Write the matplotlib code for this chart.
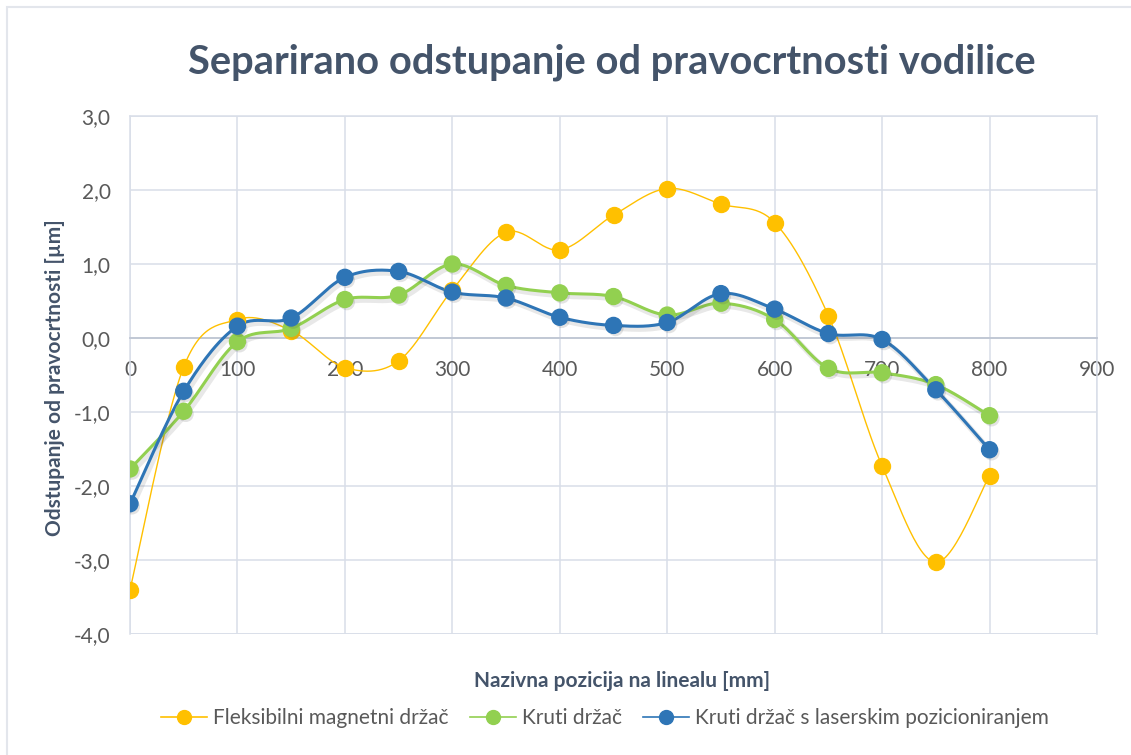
import numpy as np
import matplotlib
matplotlib.use("Agg")
import matplotlib.pyplot as plt
import matplotlib.patheffects as pe
from matplotlib.patches import Rectangle
from matplotlib.ticker import FuncFormatter, MultipleLocator

plt.rcParams['font.family'] = ['Lato', 'DejaVu Sans']

# measured positions along the rail [mm]
pozicija = [0, 50, 100, 150, 200, 250, 300, 350, 400, 450, 500, 550, 600, 650, 700, 750, 800]

# deviation from straightness [um]
fleksibilni = [-3.40, -0.39, 0.25, 0.10, -0.40, -0.31, 0.65, 1.43, 1.19, 1.66, 2.02, 1.81, 1.56, 0.30, -1.73, -3.03, -1.86]
kruti = [-1.77, -0.99, -0.05, 0.13, 0.52, 0.58, 1.00, 0.71, 0.61, 0.56, 0.31, 0.47, 0.25, -0.41, -0.47, -0.63, -1.05]
kruti_laser = [-2.24, -0.72, 0.16, 0.27, 0.82, 0.90, 0.62, 0.54, 0.28, 0.17, 0.21, 0.60, 0.39, 0.06, -0.02, -0.70, -1.51]

nazivi = ['Fleksibilni magnetni držač', 'Kruti držač', 'Kruti držač s laserskim pozicioniranjem']
boje = ['#FFC000', '#92D050', '#2E75B6']
debljine = [1.0, 2.2, 2.2]

TEXT = '#595959'
TITLE = '#44546A'
GRID = '#D9DEE8'


def smooth(x, y, n=30):
    """cardinal (catmull-rom style) bezier smoothing like office charts"""
    x = np.asarray(x, float)
    y = np.asarray(y, float)
    px = np.concatenate([[x[0]], x, [x[-1]]])
    py = np.concatenate([[y[0]], y, [y[-1]]])
    t = np.linspace(0, 1, n)[:, None]
    xs, ys = [], []
    for i in range(1, len(px) - 2):
        p0 = np.array([px[i], py[i]])
        p3 = np.array([px[i + 1], py[i + 1]])
        p1 = p0 + (np.array([px[i + 1], py[i + 1]]) - np.array([px[i - 1], py[i - 1]])) / 6
        p2 = p3 - (np.array([px[i + 2], py[i + 2]]) - np.array([px[i], py[i]])) / 6
        b = ((1 - t) ** 3) * p0 + 3 * ((1 - t) ** 2) * t * p1 + 3 * (1 - t) * t ** 2 * p2 + t ** 3 * p3
        xs.append(b[:, 0])
        ys.append(b[:, 1])
    return np.concatenate(xs), np.concatenate(ys)


fig = plt.figure(figsize=(11.31, 7.55), dpi=100)
ax = fig.add_axes([130 / 1131, 1 - 634 / 755, (1097 - 130) / 1131, (634 - 116) / 755])

# outer chart border
fig.patches.append(Rectangle((7 / 1131, -0.1), 1.2, 1 - 7 / 755 + 0.1, transform=fig.transFigure,
                             fill=False, edgecolor='#E3E6EC', linewidth=1.5))

# soft drop shadow under the thick series
shadow = [pe.SimpleLineShadow(offset=(1.5, -2), alpha=0.12, shadow_color='#444444', linewidth=4),
          pe.Normal()]
mshadow = [pe.SimplePatchShadow(offset=(1.5, -2), alpha=0.15, shadow_rgbFace='#444444'), pe.Normal()]

for ys, naziv, boja, lw in zip([fleksibilni, kruti, kruti_laser], nazivi, boje, debljine):
    sx, sy = smooth(pozicija, ys)
    thick = lw >= 2
    ax.plot(sx, sy, color=boja, linewidth=lw, zorder=3, path_effects=shadow if thick else [])
    ax.plot(pozicija, ys, linestyle='none', marker='o', markersize=11.5, color=boja,
            markeredgecolor=boja, zorder=4, path_effects=mshadow if thick else [])
    # legend proxy
    ax.plot([], [], color=boja, linewidth=1.2, marker='o', markersize=10, label=naziv)

ax.set_xlim(0, 900)
ax.set_ylim(-4, 3)
ax.xaxis.set_major_locator(MultipleLocator(100))
ax.yaxis.set_major_locator(MultipleLocator(1))
ax.yaxis.set_major_formatter(FuncFormatter(lambda v, p: f'{v:.1f}'.replace('.', ',')))
ax.grid(True, color=GRID, linewidth=1.1, zorder=0)
ax.set_axisbelow(True)

for s in ['top', 'right', 'left']:
    ax.spines[s].set_color(GRID)
    ax.spines[s].set_linewidth(1.1)
ax.spines['bottom'].set_position(('data', 0))
ax.spines['bottom'].set_color('#BFC6D3')
ax.spines['bottom'].set_linewidth(1.3)
ax.axhline(-4, color=GRID, linewidth=1.1, zorder=0)

ax.tick_params(axis='x', length=0, pad=16, labelsize=15, labelcolor=TEXT)
ax.tick_params(axis='y', length=0, pad=14, labelsize=15, labelcolor=TEXT)

fig.text(612 / 1131, 1 - 62 / 755, 'Separirano odstupanje od pravocrtnosti vodilice',
         ha='center', va='center', fontsize=28.7, fontweight='bold', color=TITLE)
fig.text(622 / 1131, 1 - 681 / 755, 'Nazivna pozicija na linealu [mm]',
         ha='center', va='center', fontsize=15, fontweight='bold', color=TITLE)
fig.text(55 / 1131, 1 - 378 / 755, 'Odstupanje od pravocrtnosti [µm]',
         ha='center', va='center', rotation=90, fontsize=15, fontweight='bold', color=TITLE)

fig.legend(loc='center', bbox_to_anchor=(605 / 1131, 1 - 718 / 755), ncol=3, frameon=False,
           fontsize=15, labelcolor=TEXT, handlelength=2.2, handletextpad=0.3, columnspacing=1.0)

fig.savefig('out.png', dpi=100, facecolor='white')
